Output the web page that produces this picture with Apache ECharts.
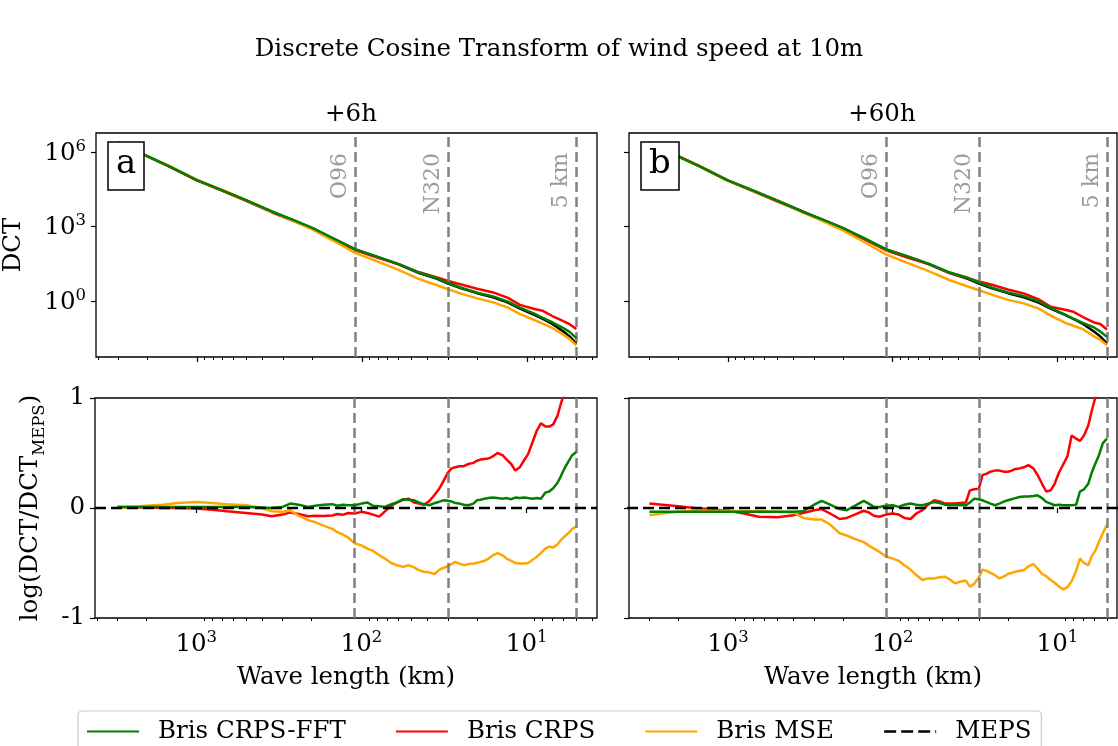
<!DOCTYPE html>
<html>
<head>
<meta charset="utf-8">
<script src="https://cdn.jsdelivr.net/npm/echarts@6/dist/echarts.min.js"></script>
<style>html,body{margin:0;padding:0;background:#fff;}#c{width:1118px;height:746px;}</style>
</head>
<body>
<div id="c"></div>
<script>
// ---------------- DATA ----------------
const wlTop = [3000, 2000, 1500, 1000, 700, 500, 350, 250, 200, 150, 110, 80, 60, 45, 35, 30, 25, 20, 16, 13, 11, 9, 8, 7, 6, 5.5, 5];
// log10(DCT), panel a (+6h)
const log10MepsA  = [6.38, 5.83, 5.45, 4.86, 4.45, 4.05, 3.60, 3.20, 2.94, 2.52, 2.08, 1.77, 1.48, 1.13, 0.90, 0.71, 0.52, 0.32, 0.15, -0.06, -0.30, -0.55, -0.72, -0.92, -1.22, -1.42, -1.71];
const log10FftA   = [6.39, 5.84, 5.46, 4.87, 4.46, 4.06, 3.60, 3.22, 2.95, 2.54, 2.09, 1.78, 1.50, 1.15, 0.92, 0.73, 0.54, 0.34, 0.19, -0.02, -0.26, -0.50, -0.67, -0.85, -1.09, -1.24, -1.49];
const log10CrpsA  = [6.38, 5.83, 5.45, 4.86, 4.44, 4.03, 3.57, 3.18, 2.91, 2.49, 2.06, 1.74, 1.49, 1.16, 0.95, 0.81, 0.67, 0.50, 0.35, 0.13, -0.15, -0.32, -0.39, -0.60, -0.81, -0.93, -1.12];
const log10MseA   = [6.38, 5.84, 5.47, 4.88, 4.47, 4.06, 3.59, 3.18, 2.89, 2.44, 1.94, 1.59, 1.26, 0.89, 0.64, 0.48, 0.30, 0.11, -0.05, -0.26, -0.52, -0.76, -0.91, -1.08, -1.35, -1.52, -1.78];
// log10(DCT), panel b (+60h)
const log10MepsB  = [6.38, 5.83, 5.45, 4.86, 4.45, 4.05, 3.60, 3.20, 2.94, 2.52, 2.08, 1.77, 1.48, 1.13, 0.90, 0.71, 0.52, 0.32, 0.15, -0.06, -0.30, -0.55, -0.72, -0.92, -1.22, -1.42, -1.71];
const log10FftB   = [6.37, 5.82, 5.44, 4.85, 4.44, 4.04, 3.59, 3.21, 2.94, 2.55, 2.09, 1.79, 1.50, 1.15, 0.94, 0.75, 0.54, 0.35, 0.20, -0.01, -0.27, -0.54, -0.71, -0.88, -1.06, -1.22, -1.44];
const log10CrpsB  = [6.40, 5.84, 5.45, 4.85, 4.42, 4.01, 3.58, 3.18, 2.90, 2.51, 2.05, 1.73, 1.49, 1.13, 0.92, 0.79, 0.66, 0.47, 0.31, 0.07, -0.23, -0.35, -0.43, -0.64, -0.86, -0.92, -1.14];
const log10MseB   = [6.35, 5.82, 5.44, 4.85, 4.44, 4.04, 3.56, 3.14, 2.84, 2.39, 1.88, 1.52, 1.20, 0.84, 0.59, 0.44, 0.26, 0.05, -0.09, -0.30, -0.58, -0.87, -0.99, -1.13, -1.42, -1.55, -1.78];

const wlRatio = [3000, 2500, 2000, 1600, 1300, 1000, 800, 650, 500, 400, 350, 300, 270, 240, 210, 190, 170, 150, 140, 130, 120, 110, 100, 92, 85, 78, 72, 66, 61, 56, 52, 48, 45, 42, 39, 36, 34, 32, 30, 28.5, 27, 25.5, 24, 22.5, 21, 20, 19, 18, 17, 16, 15, 14, 13.2, 12.4, 11.7, 11, 10.4, 9.8, 9.2, 8.7, 8.2, 7.7, 7.3, 6.9, 6.5, 6.2, 5.9, 5.6, 5.3, 5.0];
// log(DCT/DCT_MEPS), panel a
const ratioFftA  = [0.01, 0.01, 0.01, 0.01, 0.01, 0.01, 0.01, 0.01, 0.01, 0.005, 0.0, 0.01, 0.04, 0.03, 0.01, 0.02, 0.03, 0.035, 0.02, 0.03, 0.025, 0.025, 0.04, 0.05, 0.02, 0.015, 0.01, 0.035, 0.05, 0.08, 0.075, 0.07, 0.05, 0.035, 0.025, 0.045, 0.055, 0.07, 0.065, 0.06, 0.045, 0.04, 0.03, 0.025, 0.04, 0.07, 0.075, 0.085, 0.09, 0.095, 0.09, 0.085, 0.09, 0.08, 0.095, 0.09, 0.095, 0.09, 0.085, 0.09, 0.085, 0.14, 0.15, 0.18, 0.23, 0.29, 0.36, 0.42, 0.48, 0.51];
const ratioCrpsA = [0.01, 0.01, 0.005, 0.0, 0.0, -0.005, -0.015, -0.03, -0.045, -0.06, -0.075, -0.06, -0.04, -0.055, -0.075, -0.07, -0.072, -0.068, -0.055, -0.062, -0.045, -0.05, -0.035, -0.045, -0.06, -0.078, -0.03, 0.02, 0.05, 0.075, 0.085, 0.05, 0.04, 0.03, 0.06, 0.12, 0.17, 0.24, 0.32, 0.36, 0.37, 0.38, 0.38, 0.40, 0.41, 0.43, 0.44, 0.445, 0.45, 0.47, 0.50, 0.48, 0.44, 0.40, 0.34, 0.37, 0.43, 0.49, 0.60, 0.70, 0.77, 0.74, 0.74, 0.76, 0.84, 0.95, 1.05, 1.14, 1.25, 1.35];
const ratioMseA  = [0.0, 0.01, 0.02, 0.03, 0.045, 0.055, 0.045, 0.035, 0.025, 0.0, -0.03, -0.035, -0.02, -0.07, -0.11, -0.13, -0.16, -0.19, -0.22, -0.24, -0.27, -0.32, -0.34, -0.37, -0.39, -0.43, -0.46, -0.5, -0.52, -0.535, -0.52, -0.54, -0.565, -0.58, -0.585, -0.6, -0.565, -0.545, -0.53, -0.51, -0.49, -0.505, -0.52, -0.51, -0.505, -0.5, -0.49, -0.48, -0.46, -0.43, -0.41, -0.43, -0.46, -0.48, -0.5, -0.505, -0.505, -0.5, -0.47, -0.445, -0.41, -0.37, -0.35, -0.36, -0.33, -0.29, -0.26, -0.23, -0.19, -0.17];
// log(DCT/DCT_MEPS), panel b
const ratioFftB  = [-0.035, -0.035, -0.035, -0.035, -0.035, -0.035, -0.035, -0.035, -0.035, -0.035, -0.03, 0.03, 0.065, 0.03, -0.01, -0.02, 0.02, 0.065, 0.04, 0.01, 0.01, 0.02, 0.025, 0.01, 0.03, 0.04, 0.03, 0.025, 0.04, 0.055, 0.045, 0.03, 0.025, 0.03, 0.025, 0.025, 0.05, 0.085, 0.08, 0.07, 0.055, 0.04, 0.025, 0.04, 0.06, 0.07, 0.08, 0.09, 0.1, 0.105, 0.105, 0.11, 0.115, 0.09, 0.055, 0.04, 0.025, 0.03, 0.025, 0.025, 0.025, 0.03, 0.15, 0.17, 0.22, 0.32, 0.40, 0.48, 0.59, 0.63];
const ratioCrpsB = [0.04, 0.03, 0.015, 0.0, -0.01, -0.025, -0.05, -0.08, -0.085, -0.065, -0.045, -0.02, -0.01, -0.05, -0.1, -0.09, -0.06, -0.025, -0.04, -0.07, -0.08, -0.06, -0.05, -0.06, -0.09, -0.1, -0.05, -0.02, 0.03, 0.07, 0.06, 0.04, 0.04, 0.04, 0.045, 0.05, 0.16, 0.17, 0.175, 0.3, 0.31, 0.33, 0.34, 0.34, 0.33, 0.33, 0.34, 0.355, 0.36, 0.37, 0.39, 0.36, 0.30, 0.22, 0.15, 0.16, 0.22, 0.32, 0.40, 0.47, 0.66, 0.63, 0.61, 0.66, 0.75, 0.88, 1.0, 1.1, 1.2, 1.3];
const ratioMseB  = [-0.065, -0.05, -0.035, -0.025, -0.025, -0.025, -0.03, -0.03, -0.035, -0.04, -0.09, -0.105, -0.105, -0.15, -0.23, -0.25, -0.28, -0.31, -0.34, -0.37, -0.4, -0.44, -0.46, -0.48, -0.52, -0.56, -0.61, -0.655, -0.64, -0.64, -0.63, -0.625, -0.65, -0.685, -0.67, -0.66, -0.715, -0.69, -0.63, -0.56, -0.57, -0.59, -0.61, -0.64, -0.62, -0.6, -0.59, -0.58, -0.57, -0.565, -0.53, -0.51, -0.55, -0.6, -0.62, -0.655, -0.68, -0.715, -0.74, -0.72, -0.665, -0.57, -0.46, -0.5, -0.52, -0.44, -0.39, -0.31, -0.23, -0.15];
// MEPS reference in ratio panels spans the whole axis
const wlMepsRatio = [4100, 3.75];
const ratioMeps = [0, 0];

const refWl = [110, 30, 5];
const refNames = ['O96', 'N320', '5 km'];
const xMajorTicks = [1000, 100, 10];
const xMinorTicks = [4000, 3000, 2000, 900, 800, 700, 600, 500, 400, 300, 200, 90, 80, 70, 60, 50, 40, 30, 20, 9, 8, 7, 6, 5, 4];
const yTopTicks = [1, 1000, 1000000];
const panelTitles = ['+6h', '+60h'];
const panelLetters = ['a', 'b'];
const seriesNames = ['Bris CRPS-FFT', 'Bris CRPS', 'Bris MSE', 'MEPS'];

// ---------------- STYLE ----------------
const FONT = 'DejaVu Serif';
const FS = 24.5;
const C = { fft: '#008000', crps: '#ff0000', mse: '#ffa500', meps: '#000000', ref: '#808080' };
// axis extents (panel b is cut by the right edge of the picture)
const X_MAX_A = 4100, X_MIN_A = 3.75;
const X_MAX_B = 3990, X_MIN_B = 4.35;
const Y_TOP_MIN = Math.pow(10, -2.25), Y_TOP_MAX = Math.pow(10, 6.77);

const gridsPos = [
  { left: 95, top: 133, width: 502, height: 224 },
  { left: 629, top: 133, width: 488, height: 224 },
  { left: 95, top: 398, width: 502, height: 220 },
  { left: 629, top: 398, width: 488, height: 220 }
];
const xMins = [X_MIN_A, X_MIN_B, X_MIN_A, X_MIN_B];
const xMaxs = [X_MAX_A, X_MAX_B, X_MAX_A, X_MAX_B];

const supRich = {
  b: { fontFamily: FONT, fontSize: FS, lineHeight: 28, color: '#000', verticalAlign: 'bottom' },
  s: { fontFamily: FONT, fontSize: 16.5, lineHeight: 15, color: '#000', verticalAlign: 'top' }
};
function powFmt(v) { return '{b|10}{s|' + Math.round(Math.log10(v)) + '}'; }

const grid = gridsPos.map(g => Object.assign({ show: true, borderColor: '#000', borderWidth: 1.3, backgroundColor: 'transparent', containLabel: false }, g));

const xAxis = [];
const yAxis = [];
for (let gi = 0; gi < 4; gi++) {
  const isBottom = gi >= 2;
  xAxis.push({
    type: 'log', logBase: 10, gridIndex: gi, position: 'bottom', min: xMins[gi], max: xMaxs[gi], inverse: true,
    axisLine: { show: false },
    axisTick: { show: true, length: 5, lineStyle: { color: '#000', width: 1.2 }, customValues: xMajorTicks },
    axisLabel: { show: isBottom, customValues: xMajorTicks, formatter: powFmt, rich: supRich, margin: 11 },
    splitLine: { show: false },
    name: isBottom ? 'Wave length (km)' : '', nameLocation: 'middle', nameGap: 47,
    nameTextStyle: { fontFamily: FONT, fontSize: FS, color: '#000' }
  });
  xAxis.push({
    type: 'log', logBase: 10, gridIndex: gi, position: 'bottom', min: xMins[gi], max: xMaxs[gi], inverse: true,
    axisLine: { show: false },
    axisTick: { show: true, length: 3, lineStyle: { color: '#000', width: 1 }, customValues: xMinorTicks },
    axisLabel: { show: false },
    splitLine: { show: false }
  });
}
yAxis.push({
  type: 'log', logBase: 10, gridIndex: 0, min: Y_TOP_MIN, max: Y_TOP_MAX,
  axisLine: { show: false },
  axisTick: { show: true, length: 5, lineStyle: { color: '#000', width: 1.2 }, customValues: yTopTicks },
  axisLabel: { show: true, customValues: yTopTicks, formatter: powFmt, rich: supRich, margin: 10 },
  splitLine: { show: false },
  name: 'DCT', nameLocation: 'middle', nameRotate: 90, nameGap: 70,
  nameTextStyle: { fontFamily: FONT, fontSize: FS, color: '#000' }
});
yAxis.push({
  type: 'log', logBase: 10, gridIndex: 1, min: Y_TOP_MIN, max: Y_TOP_MAX,
  axisLine: { show: false },
  axisTick: { show: true, length: 5, lineStyle: { color: '#000', width: 1.2 }, customValues: yTopTicks },
  axisLabel: { show: false },
  splitLine: { show: false }
});
yAxis.push({
  type: 'value', gridIndex: 2, min: -1, max: 1, interval: 1,
  axisLine: { show: false },
  axisTick: { show: true, length: 5, lineStyle: { color: '#000', width: 1.2 } },
  axisLabel: { show: true, fontFamily: FONT, fontSize: FS, color: '#000', margin: 10 },
  splitLine: { show: false },
  name: '{n|log(DCT/DCT}{s|MEPS}{n|)}', nameLocation: 'middle', nameRotate: 90, nameGap: 47,
  nameTextStyle: {
    fontFamily: FONT, fontSize: FS, color: '#000',
    rich: {
      n: { fontFamily: FONT, fontSize: FS, lineHeight: 30, color: '#000', verticalAlign: 'top' },
      s: { fontFamily: FONT, fontSize: 16.5, lineHeight: 15, color: '#000', verticalAlign: 'bottom' }
    }
  }
});
yAxis.push({
  type: 'value', gridIndex: 3, min: -1, max: 1, interval: 1,
  axisLine: { show: false },
  axisTick: { show: true, length: 5, lineStyle: { color: '#000', width: 1.2 } },
  axisLabel: { show: false },
  splitLine: { show: false }
});

function pairs(wl, vals, isLog) {
  return wl.map((w, i) => [w, isLog ? Math.pow(10, vals[i]) : vals[i]]);
}
function refMarkLine(withLabels) {
  return {
    silent: true, symbol: 'none',
    lineStyle: { color: C.ref, type: [10, 5], width: 2.5 },
    label: withLabels ? {
      show: true, position: 'insideEndTop', formatter: '{b}', color: '#9a9a9a',
      fontFamily: FONT, fontSize: 22, distance: [20, 4]
    } : { show: false },
    emphasis: { disabled: true },
    data: refWl.map((w, i) => ({ xAxis: w, name: refNames[i] }))
  };
}
function lineSeries(name, color, data, gi, extra) {
  return Object.assign({
    type: 'line', name: name, xAxisIndex: gi * 2, yAxisIndex: gi, data: data,
    symbol: 'none', showSymbol: false, smooth: false, clip: true, animation: false,
    lineStyle: { color: color, width: 2.5 }, itemStyle: { color: color },
    emphasis: { disabled: true }
  }, extra || {});
}

const series = [];
const topSets = [
  [log10MepsA, log10CrpsA, log10MseA, log10FftA],
  [log10MepsB, log10CrpsB, log10MseB, log10FftB]
];
topSets.forEach((s, gi) => {
  series.push(lineSeries('MEPS', C.meps, pairs(wlTop, s[0], true), gi, { z: 2, markLine: refMarkLine(true) }));
  series.push(lineSeries('Bris CRPS', C.crps, pairs(wlTop, s[1], true), gi, { z: 3 }));
  series.push(lineSeries('Bris MSE', C.mse, pairs(wlTop, s[2], true), gi, { z: 4 }));
  series.push(lineSeries('Bris CRPS-FFT', C.fft, pairs(wlTop, s[3], true), gi, { z: 5 }));
});
const ratioSets = [
  [ratioCrpsA, ratioMseA, ratioFftA],
  [ratioCrpsB, ratioMseB, ratioFftB]
];
ratioSets.forEach((s, k) => {
  const gi = k + 2;
  series.push(lineSeries('Bris CRPS', C.crps, pairs(wlRatio, s[0], false), gi, { z: 3, markLine: refMarkLine(false) }));
  series.push(lineSeries('Bris MSE', C.mse, pairs(wlRatio, s[1], false), gi, { z: 4 }));
  series.push(lineSeries('Bris CRPS-FFT', C.fft, pairs(wlRatio, s[2], false), gi, { z: 5 }));
  series.push(lineSeries('MEPS', C.meps, pairs(wlMepsRatio, ratioMeps, false), gi, { z: 6, lineStyle: { color: C.meps, width: 2.5, type: [11, 5] } }));
});

const txt = { fontFamily: FONT, fontSize: FS, fontWeight: 'normal', color: '#000' };
const titles = [
  { text: 'Discrete Cosine Transform of wind speed at 10m', left: 'center', top: 32, textStyle: txt },
  { text: panelTitles[0], left: 346, textAlign: 'center', top: 97, textStyle: txt },
  { text: panelTitles[1], left: 877, textAlign: 'center', top: 97, textStyle: txt },
  { text: panelLetters[0], left: 108, top: 142, padding: [2, 8, 6, 8], borderColor: '#000', borderWidth: 1.5, backgroundColor: '#fff', textStyle: { fontFamily: FONT, fontSize: 34, fontWeight: 'normal', color: '#000', lineHeight: 40 } },
  { text: panelLetters[1], left: 641, top: 142, padding: [2, 8, 6, 8], borderColor: '#000', borderWidth: 1.5, backgroundColor: '#fff', textStyle: { fontFamily: FONT, fontSize: 34, fontWeight: 'normal', color: '#000', lineHeight: 40 } }
];

const option = {
  backgroundColor: '#fff',
  animation: false,
  title: titles,
  grid: grid,
  xAxis: xAxis,
  yAxis: yAxis,
  legend: {
    left: 78, top: 711, orient: 'horizontal',
    padding: [8, 10, 14, 8], itemGap: 49, itemWidth: 52, itemHeight: 14,
    borderColor: '#cccccc', borderWidth: 1.2, borderRadius: 4, backgroundColor: '#fff',
    itemStyle: { opacity: 0 },
    textStyle: { fontFamily: FONT, fontSize: FS, color: '#000', padding: [0, 0, 0, 14] },
    data: [
      { name: seriesNames[0] },
      { name: seriesNames[1] },
      { name: seriesNames[2] },
      { name: seriesNames[3], lineStyle: { type: [12, 5], color: '#000', width: 2.5 } }
    ]
  },
  series: series
};

const chart = echarts.init(document.getElementById('c'), null, { renderer: 'canvas' });
chart.setOption(option);
</script>
</body>
</html>
